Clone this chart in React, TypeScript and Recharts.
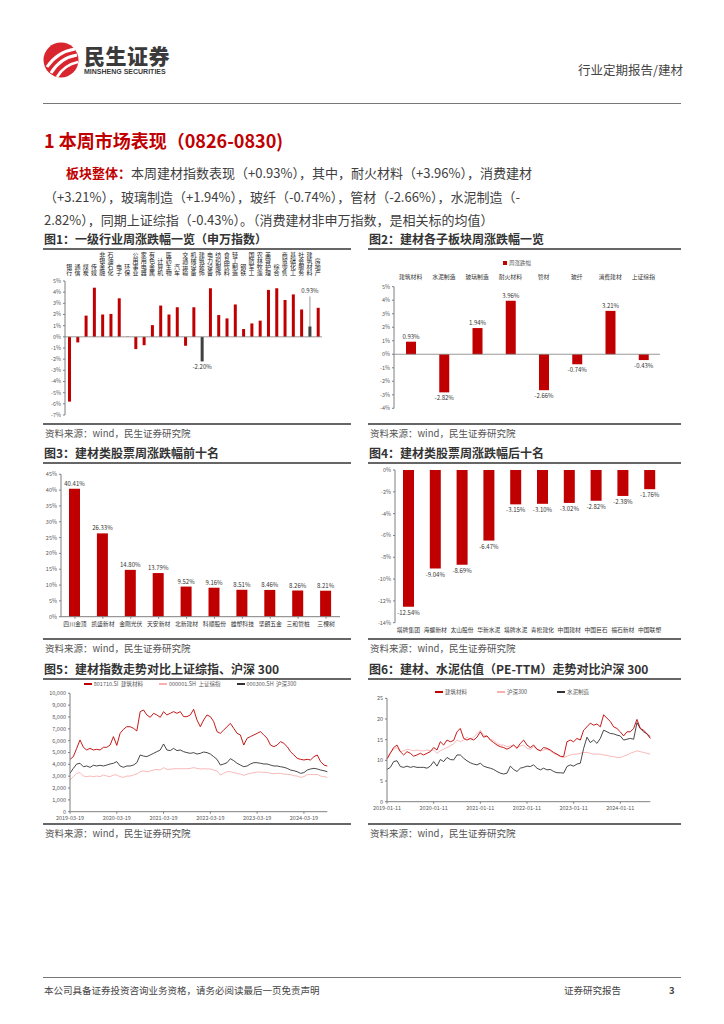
import React from "react";
import {
  Bar,
  BarChart,
  Cell,
  LabelList,
  Line,
  LineChart,
  ReferenceLine,
  XAxis,
  YAxis,
} from "recharts";

const FONT = '"Noto Sans CJK SC", "Noto Sans", sans-serif';
const RED = "#c00000";
const DARK = "#404040";
const PINK = "#f7b0b0";
const AXIS = "#7f7f7f";
const TICK = { fontSize: 5.5, fill: "#595959", fontFamily: FONT };

// 图1 一级行业周涨跌幅
const industries = [
  "银行", "通信", "煤炭", "传媒", "非银金融", "石油石化", "电子", "环保",
  "公用事业", "家用电器", "有色金属", "计算机", "医药生物", "汽车", "交通运输",
  "机械设备", "建筑装饰", "电力设备", "纺织服饰", "食品饮料", "轻工制造", "钢铁",
  "国防军工", "农林牧渔", "美容护理", "综合", "商贸零售", "基础化工", "社会服务",
  "建筑材料", "房地产",
];
const industryChg = [
  -5.8, -0.5, 1.9, 4.4, 2.0, 2.05, 3.45, 0.02, -1.1, -0.75, 1.05, 2.8, 2.0,
  2.65, -0.8, 2.65, -2.2, 4.35, 1.95, 1.65, 2.9, 0.7, 1.2, 1.45, 4.2, 4.35, 3.3,
  3.8, 2.45, 0.93, 2.6,
];
const industryDark = ["建筑装饰", "建筑材料"];
const industryTicks = [-7, -6, -5, -4, -3, -2, -1, 0, 1, 2, 3, 4, 5];

// 图2 建材各子板块
const subSectors = ["建筑材料", "水泥制造", "玻璃制造", "耐火材料", "管材", "玻纤", "消费建材", "上证综指"];
const subChg = [0.93, -2.82, 1.94, 3.96, -2.66, -0.74, 3.21, -0.43];
const subTicks = [-4, -3, -2, -1, 0, 1, 2, 3, 4, 5];

// 图3 涨幅前十
const topNames = ["四川金顶", "凯盛新材", "金刚光伏", "天安新材", "北新建材", "科顺股份", "雄塑科技", "坚朗五金", "三和管桩", "三棵树"];
const topChg = [40.41, 26.33, 14.8, 13.79, 9.52, 9.16, 8.51, 8.46, 8.26, 8.21];
const topTicks = [0, 5, 10, 15, 20, 25, 30, 35, 40, 45];

// 图4 跌幅前十
const bottomNames = ["塔牌集团", "海螺新材", "太山股份", "华新水泥", "塔牌水泥", "青松建化", "中国建材", "中国巨石", "福石新材", "中国联塑"];
const bottomChg = [-12.54, -9.04, -8.69, -6.47, -3.15, -3.1, -3.02, -2.82, -2.38, -1.76];
const bottomTicks = [-14, -12, -10, -8, -6, -4, -2, 0];

// 图5 指数走势
const fig5Dates = ["2019-03-19", "2020-03-19", "2021-03-19", "2022-03-19", "2023-03-19", "2024-03-19"];
const bmIndex = [
  4420, 4650, 5350, 6060, 5440, 5210, 5350, 5210, 5270, 5210, 5440, 5440, 5630,
  6340, 5600, 6620, 6960, 7180, 7180, 7040, 6820, 8450, 8590, 8170, 7970, 8310,
  8170, 7970, 8450, 8170, 8310, 8450, 8310, 8450, 8030, 8030, 8170, 8650, 7750,
  7180, 7750, 8170, 8030, 7610, 6760, 6620, 6900, 7180, 7460, 7040, 6620, 6480,
  5630, 6200, 6340, 6480, 6620, 6760, 6480, 6200, 5630, 5490, 5630, 5920, 5770,
  5490, 5070, 4790, 4510, 4420, 4370, 4420, 4370, 4650, 4790, 4230, 3940, 3860,
];
const shIndex = [
  2680, 2960, 3240, 3300, 3010, 2960, 3010, 2960, 3010, 2960, 3100, 3010, 2960,
  3100, 3100, 2960, 2900, 3010, 3010, 3100, 3180, 3380, 3440, 3380, 3440, 3520,
  3580, 3520, 3720, 3580, 3580, 3630, 3630, 3630, 3630, 3630, 3660, 3720, 3660,
  3610, 3630, 3610, 3610, 3520, 3440, 3100, 3240, 3380, 3380, 3300, 3240, 3180,
  3070, 3180, 3240, 3300, 3350, 3350, 3320, 3320, 3240, 3210, 3240, 3240, 3180,
  3150, 3130, 3040, 3010, 2900, 2960, 3130, 3150, 3130, 3150, 3010, 2960, 2900,
];
const hsIndex = [
  3240, 3660, 4030, 4090, 3800, 3860, 3750, 3920, 3860, 3920, 3860, 3940, 4030,
  4090, 4230, 3860, 3750, 3860, 3860, 3940, 4140, 4790, 4700, 4650, 4790, 4930,
  5070, 5210, 5720, 5210, 5160, 5350, 5160, 5210, 5070, 4990, 4930, 4990, 4870,
  4930, 5040, 4990, 4870, 4650, 4420, 3940, 4030, 4140, 4480, 4310, 4090, 3940,
  3800, 3860, 4030, 4140, 4140, 4090, 4030, 4030, 3940, 3860, 3860, 3800, 3750,
  3660, 3520, 3460, 3380, 3240, 3300, 3520, 3610, 3660, 3610, 3520, 3460, 3380,
];
const fig5Ticks = [0, 1000, 2000, 3000, 4000, 5000, 6000, 7000, 8000, 9000, 10000];

// 图6 PE-TTM
const fig6Dates = ["2019-01-11", "2020-01-11", "2021-01-11", "2022-01-11", "2023-01-11", "2024-01-11"];
const bmPE = [
  10.3, 11.7, 13.1, 13.7, 12.1, 11.3, 12.1, 11.7, 11.0, 11.3, 11.7, 11.3, 11.7,
  12.1, 13.1, 12.5, 14.5, 13.7, 14.9, 14.5, 14.8, 16.9, 17.7, 15.3, 14.9, 15.3,
  14.9, 15.6, 16.9, 15.6, 15.9, 14.9, 14.3, 13.7, 13.3, 13.1, 12.7, 13.1, 13.7,
  12.9, 14.1, 14.9, 13.7, 13.1, 13.7, 12.7, 12.3, 13.1, 12.9, 12.5, 11.9, 11.5,
  11.0, 10.9, 14.5, 14.9, 14.5, 15.3, 14.9, 17.3, 18.1, 19.0, 18.5, 18.8, 18.1,
  21.0, 20.2, 19.4, 18.1, 17.7, 16.9, 15.9, 16.9, 16.9, 17.7, 19.9, 17.7, 17.3,
  16.4, 15.3,
];
const hsPE = [
  10.5, 11.9, 12.7, 13.1, 12.1, 12.3, 12.7, 12.5, 12.3, 12.5, 12.3, 12.3, 12.5,
  12.3, 12.5, 11.7, 12.3, 12.7, 13.1, 13.5, 14.0, 14.9, 14.5, 14.9, 15.6, 14.9,
  15.6, 16.4, 17.3, 16.1, 15.9, 15.1, 14.8, 14.1, 13.7, 13.7, 13.3, 13.5, 13.7,
  13.1, 13.5, 13.7, 12.9, 12.7, 13.3, 12.7, 12.3, 12.5, 12.7, 12.3, 11.7, 11.3,
  10.9, 10.6, 11.0, 11.3, 11.5, 11.5, 11.7, 11.9, 11.9, 11.7, 11.5, 11.5, 11.5,
  11.3, 11.2, 11.0, 10.9, 10.7, 10.7, 11.0, 11.3, 11.7, 12.0, 12.3, 12.1, 11.9,
  11.7, 11.5,
];
const cementPE = [
  7.8, 8.3, 9.7, 9.9, 8.5, 8.3, 8.6, 8.3, 8.5, 8.3, 8.3, 8.3, 8.1, 8.6, 9.7, 8.6,
  10.2, 9.7, 10.7, 10.2, 10.1, 11.3, 11.3, 10.5, 9.9, 9.4, 9.1, 8.9, 9.3, 8.6,
  8.3, 8.1, 7.8, 7.3, 6.9, 6.7, 6.9, 8.6, 7.8, 7.3, 8.1, 8.3, 8.6, 8.5, 8.9, 8.1,
  7.7, 8.1, 7.7, 7.8, 7.3, 7.0, 7.0, 6.9, 8.5, 8.9, 8.6, 9.1, 9.3, 12.9, 15.6,
  14.3, 14.9, 14.1, 15.3, 17.3, 16.9, 16.5, 16.4, 16.1, 15.9, 14.9, 15.1, 15.3,
  15.1, 19.1, 17.7, 16.9, 16.4, 15.7,
];
const fig6Ticks = [0, 5, 10, 15, 20, 25];

const industryData = industries.map((name, i) => ({ name, v: industryChg[i] }));
const subData = subSectors.map((name, i) => ({ name, v: subChg[i] }));
const topData = topNames.map((name, i) => ({ name, v: topChg[i] }));
const bottomData = bottomNames.map((name, i) => ({ name, v: bottomChg[i] }));
const fig5Data = bmIndex.map((v, i) => ({ i, bm: v, sh: shIndex[i], hs: hsIndex[i] }));
const fig6Data = bmPE.map((v, i) => ({ i, bm: v, hs: hsPE[i], cement: cementPE[i] }));

const pct = (v: number) => `${v}%`;
const pct2 = (v: number) => `${v.toFixed(2)}%`;

// vertical category label, bottom-aligned just above the plot
function VertTick({ x, y, payload }: any) {
  return (
    <text
      x={x}
      y={y}
      textAnchor="end"
      fontSize={6}
      fill="#222"
      fontFamily={FONT}
      style={{ writingMode: "vertical-rl" }}
    >
      {payload.value}
    </text>
  );
}

function IndustryLabel(props: any) {
  const { x, y, width, height, index } = props;
  const top = Math.min(y, y + height);
  const bottom = Math.max(y, y + height);
  const cx = x + width / 2;
  if (industries[index] === "建筑装饰") {
    return (
      <text x={cx} y={bottom + 8} textAnchor="middle" fontSize={6} fill="#333" fontFamily={FONT}>
        {pct2(industryChg[index])}
      </text>
    );
  }
  if (industries[index] === "建筑材料") {
    return (
      <g>
        <text x={cx} y={top - 33} textAnchor="middle" fontSize={6} fill="#333" fontFamily={FONT}>
          {pct2(industryChg[index])}
        </text>
        <line x1={cx} x2={cx} y1={top - 30} y2={top} stroke="#555" strokeWidth={0.6} />
      </g>
    );
  }
  return null;
}

function ValueLabel(props: any) {
  const { x, y, width, height, value } = props;
  const top = Math.min(y, y + height);
  const bottom = Math.max(y, y + height);
  const cx = x + width / 2;
  const ty = value >= 0 ? top - 3 : bottom + 8;
  return (
    <text x={cx} y={ty} textAnchor="middle" fontSize={6} fill="#333" fontFamily={FONT}>
      {pct2(value)}
    </text>
  );
}

function LineLegend({ items, gap, left, top, width }: { items: { label: string; color: string; box?: boolean }[]; gap: number; left: number; top: number; width: number }) {
  return (
    <div style={{ position: "absolute", left, top, width, display: "flex", justifyContent: "center", gap, fontSize: 5.5, lineHeight: "8px", color: "#595959", fontFamily: FONT }}>
      {items.map((it) => (
        <span key={it.label} style={{ display: "flex", alignItems: "center", whiteSpace: "pre" }}>
          <span style={{ display: "inline-block", width: it.box ? 4 : 8, height: it.box ? 4 : 1.2, background: it.color, marginRight: 2 }} />
          {it.label}
        </span>
      ))}
    </div>
  );
}

function ChartTitle({ text, left, top, width }: { text: string; left: number; top: number; width: number }) {
  return (
    <div style={{ position: "absolute", left, top, width }}>
      <div style={{ fontSize: 12, fontWeight: 700, color: "#333", lineHeight: "14px", paddingLeft: 1 }}>{text}</div>
      <div style={{ height: 2, background: "#666", marginTop: 2 }} />
    </div>
  );
}

function Source({ left, top, width }: { left: number; top: number; width: number }) {
  return (
    <div style={{ position: "absolute", left, top, width }}>
      <div style={{ height: 1.5, background: "#666" }} />
      <div style={{ fontSize: 9.5, lineHeight: "12px", color: "#555", marginTop: 2, paddingLeft: 2 }}>资料来源：wind，民生证券研究院</div>
    </div>
  );
}

function Logo() {
  return (
    <svg width={40} height={40} style={{ position: "absolute", left: 41, top: 40 }}>
      <circle cx={20} cy={20} r={17.5} fill="#d9262e" />
      <path d="M6 27 Q16 12 34 9" stroke="#fff" strokeWidth={3} fill="none" />
      <path d="M10 33 Q19 18 36 15" stroke="#fff" strokeWidth={3} fill="none" />
      <path d="M16 37 Q23 25 37 22" stroke="#fff" strokeWidth={2.5} fill="none" />
    </svg>
  );
}

export default function App() {
  return (
    <div style={{ position: "absolute", left: 0, top: 0, width: 724, height: 1024, background: "#fff", fontFamily: FONT, overflow: "hidden" }}>
      {/* header */}
      <Logo />
      <div style={{ position: "absolute", left: 84, top: 45, fontSize: 21, fontWeight: 900, color: "#3a3a3a", letterSpacing: 0.5, lineHeight: "21px" }}>民生证券</div>
      <div style={{ position: "absolute", left: 84, top: 68, fontSize: 7, fontWeight: 700, color: "#3a3a3a", lineHeight: "8px", fontFamily: '"Liberation Sans", sans-serif' }}>MINSHENG SECURITIES</div>
      <div style={{ position: "absolute", left: 578, top: 62, fontSize: 12.5, color: "#444", lineHeight: "15px" }}>行业定期报告/建材</div>
      <div style={{ position: "absolute", left: 43, top: 103, width: 638, height: 1, background: "#777" }} />

      <div style={{ position: "absolute", left: 44, top: 129, fontSize: 18, fontWeight: 700, color: RED, lineHeight: "22px" }}>1 本周市场表现（0826-0830)</div>
      <div style={{ position: "absolute", left: 66, top: 164, fontSize: 13, color: "#404040", lineHeight: "18px", whiteSpace: "nowrap" }}>
        <span style={{ color: RED, fontWeight: 700 }}>板块整体：</span>本周建材指数表现（+0.93%），其中，耐火材料（+3.96%），消费建材
      </div>
      <div style={{ position: "absolute", left: 44, top: 188, fontSize: 13, color: "#404040", lineHeight: "18px", whiteSpace: "nowrap" }}>
        （+3.21%），玻璃制造（+1.94%），玻纤（-0.74%），管材（-2.66%），水泥制造（-
      </div>
      <div style={{ position: "absolute", left: 44, top: 211, fontSize: 13, color: "#404040", lineHeight: "18px", whiteSpace: "nowrap" }}>
        2.82%），同期上证综指（-0.43%）。（消费建材非申万指数，是相关标的均值）
      </div>

      {/* 图1 */}
      <ChartTitle text="图1：一级行业周涨跌幅一览（申万指数）" left={43} top={232} width={308} />
      <div style={{ position: "absolute", left: 40, top: 250 }}>
        <BarChart width={290} height={175} data={industryData} margin={{ top: 0, right: 8, left: 0, bottom: 10 }} barSize={3}>
          <XAxis dataKey="name" orientation="top" height={31} axisLine={false} tickLine={false} tickSize={0} tickMargin={5} interval={0} tick={<VertTick />} />
          <YAxis width={25} domain={[-7, 5]} ticks={industryTicks} tickFormatter={pct} tick={TICK} stroke={AXIS} tickSize={2} interval={0} />
          <ReferenceLine y={0} stroke={AXIS} strokeWidth={0.8} />
          <Bar dataKey="v" isAnimationActive={false}>
            {industryData.map((d) => (
              <Cell key={d.name} fill={industryDark.includes(d.name) ? DARK : RED} />
            ))}
            <LabelList dataKey="v" content={<IndustryLabel />} />
          </Bar>
        </BarChart>
      </div>
      <Source left={43} top={423} width={308} />

      {/* 图2 */}
      <ChartTitle text="图2：建材各子板块周涨跌幅一览" left={368} top={232} width={313} />
      <LineLegend left={362} top={259} width={310} gap={0} items={[{ label: "周涨跌幅", color: RED, box: true }]} />
      <div style={{ position: "absolute", left: 362, top: 250 }}>
        <BarChart width={310} height={175} data={subData} margin={{ top: 0, right: 12, left: 0, bottom: 16.7 }} barSize={10}>
          <XAxis dataKey="name" orientation="top" height={36.7} axisLine={false} tickLine={false} tickSize={0} tickMargin={8} interval={0} tick={{ fontSize: 5.8, fill: "#333", fontFamily: FONT }} />
          <YAxis width={32} domain={[-4, 5]} ticks={subTicks} tickFormatter={pct} tick={TICK} stroke={AXIS} tickSize={2} interval={0} />
          <ReferenceLine y={0} stroke={AXIS} strokeWidth={0.8} />
          <Bar dataKey="v" fill={RED} isAnimationActive={false}>
            <LabelList dataKey="v" content={<ValueLabel />} />
          </Bar>
        </BarChart>
      </div>
      <Source left={368} top={423} width={313} />

      {/* 图3 */}
      <ChartTitle text="图3：建材类股票周涨跌幅前十名" left={43} top={446} width={308} />
      <div style={{ position: "absolute", left: 40, top: 465 }}>
        <BarChart width={305} height={170} data={topData} margin={{ top: 9.3, right: 5, left: 0, bottom: 0 }} barSize={11}>
          <XAxis dataKey="name" height={18.3} stroke={AXIS} tickSize={2} tickMargin={3} interval={0} tick={{ fontSize: 5.8, fill: "#333", fontFamily: FONT }} />
          <YAxis width={21} domain={[0, 45]} ticks={topTicks} tickFormatter={pct} tick={TICK} stroke={AXIS} tickSize={2} interval={0} />
          <Bar dataKey="v" fill={RED} isAnimationActive={false}>
            <LabelList dataKey="v" content={<ValueLabel />} />
          </Bar>
        </BarChart>
      </div>
      <Source left={43} top={638} width={308} />

      {/* 图4 */}
      <ChartTitle text="图4：建材类股票周涨跌幅后十名" left={368} top={446} width={313} />
      <div style={{ position: "absolute", left: 362, top: 465 }}>
        <BarChart width={315} height={172} data={bottomData} margin={{ top: 5, right: 14, left: 0, bottom: 0 }} barSize={11}>
          <XAxis dataKey="name" height={14.3} axisLine={false} tickLine={false} tickSize={0} tickMargin={5} interval={0} tick={{ fontSize: 5.8, fill: "#333", fontFamily: FONT }} />
          <YAxis width={33} domain={[-14, 0]} ticks={bottomTicks} tickFormatter={pct} tick={TICK} stroke={AXIS} tickSize={2} interval={0} />
          <Bar dataKey="v" fill={RED} isAnimationActive={false}>
            <LabelList dataKey="v" content={<ValueLabel />} />
          </Bar>
        </BarChart>
      </div>
      <Source left={368} top={638} width={313} />

      {/* 图5 */}
      <ChartTitle text="图5：建材指数走势对比上证综指、沪深 300" left={43} top={662} width={308} />
      <LineLegend
        left={40}
        top={680}
        width={300}
        gap={16}
        items={[
          { label: "801710.SI  建筑材料", color: RED },
          { label: "000001.SH  上证综指", color: PINK },
          { label: "000300.SH  沪深300", color: "#333" },
        ]}
      />
      <div style={{ position: "absolute", left: 40, top: 676 }}>
        <LineChart width={300} height={148} data={fig5Data} margin={{ top: 17.3, right: 12.7, left: 0, bottom: 0 }}>
          <XAxis type="number" dataKey="i" domain={[0, 77]} ticks={[0, 14, 28, 42, 56, 70]} tickFormatter={(v) => fig5Dates[v / 14]} height={12.3} stroke={AXIS} tickSize={2} tickMargin={2.8} tick={TICK} />
          <YAxis width={30} domain={[0, 10000]} ticks={fig5Ticks} tickFormatter={(v) => v.toLocaleString("en-US")} tick={TICK} stroke={AXIS} tickSize={2} interval={0} />
          <Line dataKey="sh" stroke={PINK} strokeWidth={0.9} dot={false} isAnimationActive={false} />
          <Line dataKey="hs" stroke="#333" strokeWidth={0.9} dot={false} isAnimationActive={false} />
          <Line dataKey="bm" stroke={RED} strokeWidth={0.9} dot={false} isAnimationActive={false} />
        </LineChart>
      </div>
      <Source left={43} top={823} width={308} />

      {/* 图6 */}
      <ChartTitle text="图6：建材、水泥估值（PE-TTM）走势对比沪深 300" left={368} top={662} width={313} />
      <LineLegend
        left={362}
        top={688}
        width={300}
        gap={30}
        items={[
          { label: "建筑材料", color: RED },
          { label: "沪深300", color: PINK },
          { label: "水泥制造", color: "#333" },
        ]}
      />
      <div style={{ position: "absolute", left: 362, top: 676 }}>
        <LineChart width={300} height={140} data={fig6Data} margin={{ top: 22.3, right: 11.7, left: 0, bottom: 0 }}>
          <XAxis type="number" dataKey="i" domain={[0, 79]} ticks={[0, 14, 28, 42, 56, 70]} tickFormatter={(v) => fig6Dates[v / 14]} height={14.3} stroke={AXIS} tickSize={2} tickMargin={2.5} tick={TICK} />
          <YAxis width={25} domain={[0, 25]} ticks={fig6Ticks} tick={TICK} stroke={AXIS} tickSize={2} interval={0} />
          <Line dataKey="hs" stroke={PINK} strokeWidth={0.9} dot={false} isAnimationActive={false} />
          <Line dataKey="cement" stroke="#333" strokeWidth={0.9} dot={false} isAnimationActive={false} />
          <Line dataKey="bm" stroke={RED} strokeWidth={0.9} dot={false} isAnimationActive={false} />
        </LineChart>
      </div>
      <Source left={368} top={823} width={313} />

      {/* footer */}
      <div style={{ position: "absolute", left: 43, top: 977, width: 638, height: 1, background: "#777" }} />
      <div style={{ position: "absolute", left: 44, top: 984, fontSize: 9.5, color: "#444", lineHeight: "12px" }}>本公司具备证券投资咨询业务资格，请务必阅读最后一页免责声明</div>
      <div style={{ position: "absolute", left: 564, top: 984, fontSize: 9.5, color: "#444", lineHeight: "12px" }}>证券研究报告</div>
      <div style={{ position: "absolute", left: 669, top: 984, fontSize: 9.5, fontWeight: 700, color: "#444", lineHeight: "12px" }}>3</div>
    </div>
  );
}
